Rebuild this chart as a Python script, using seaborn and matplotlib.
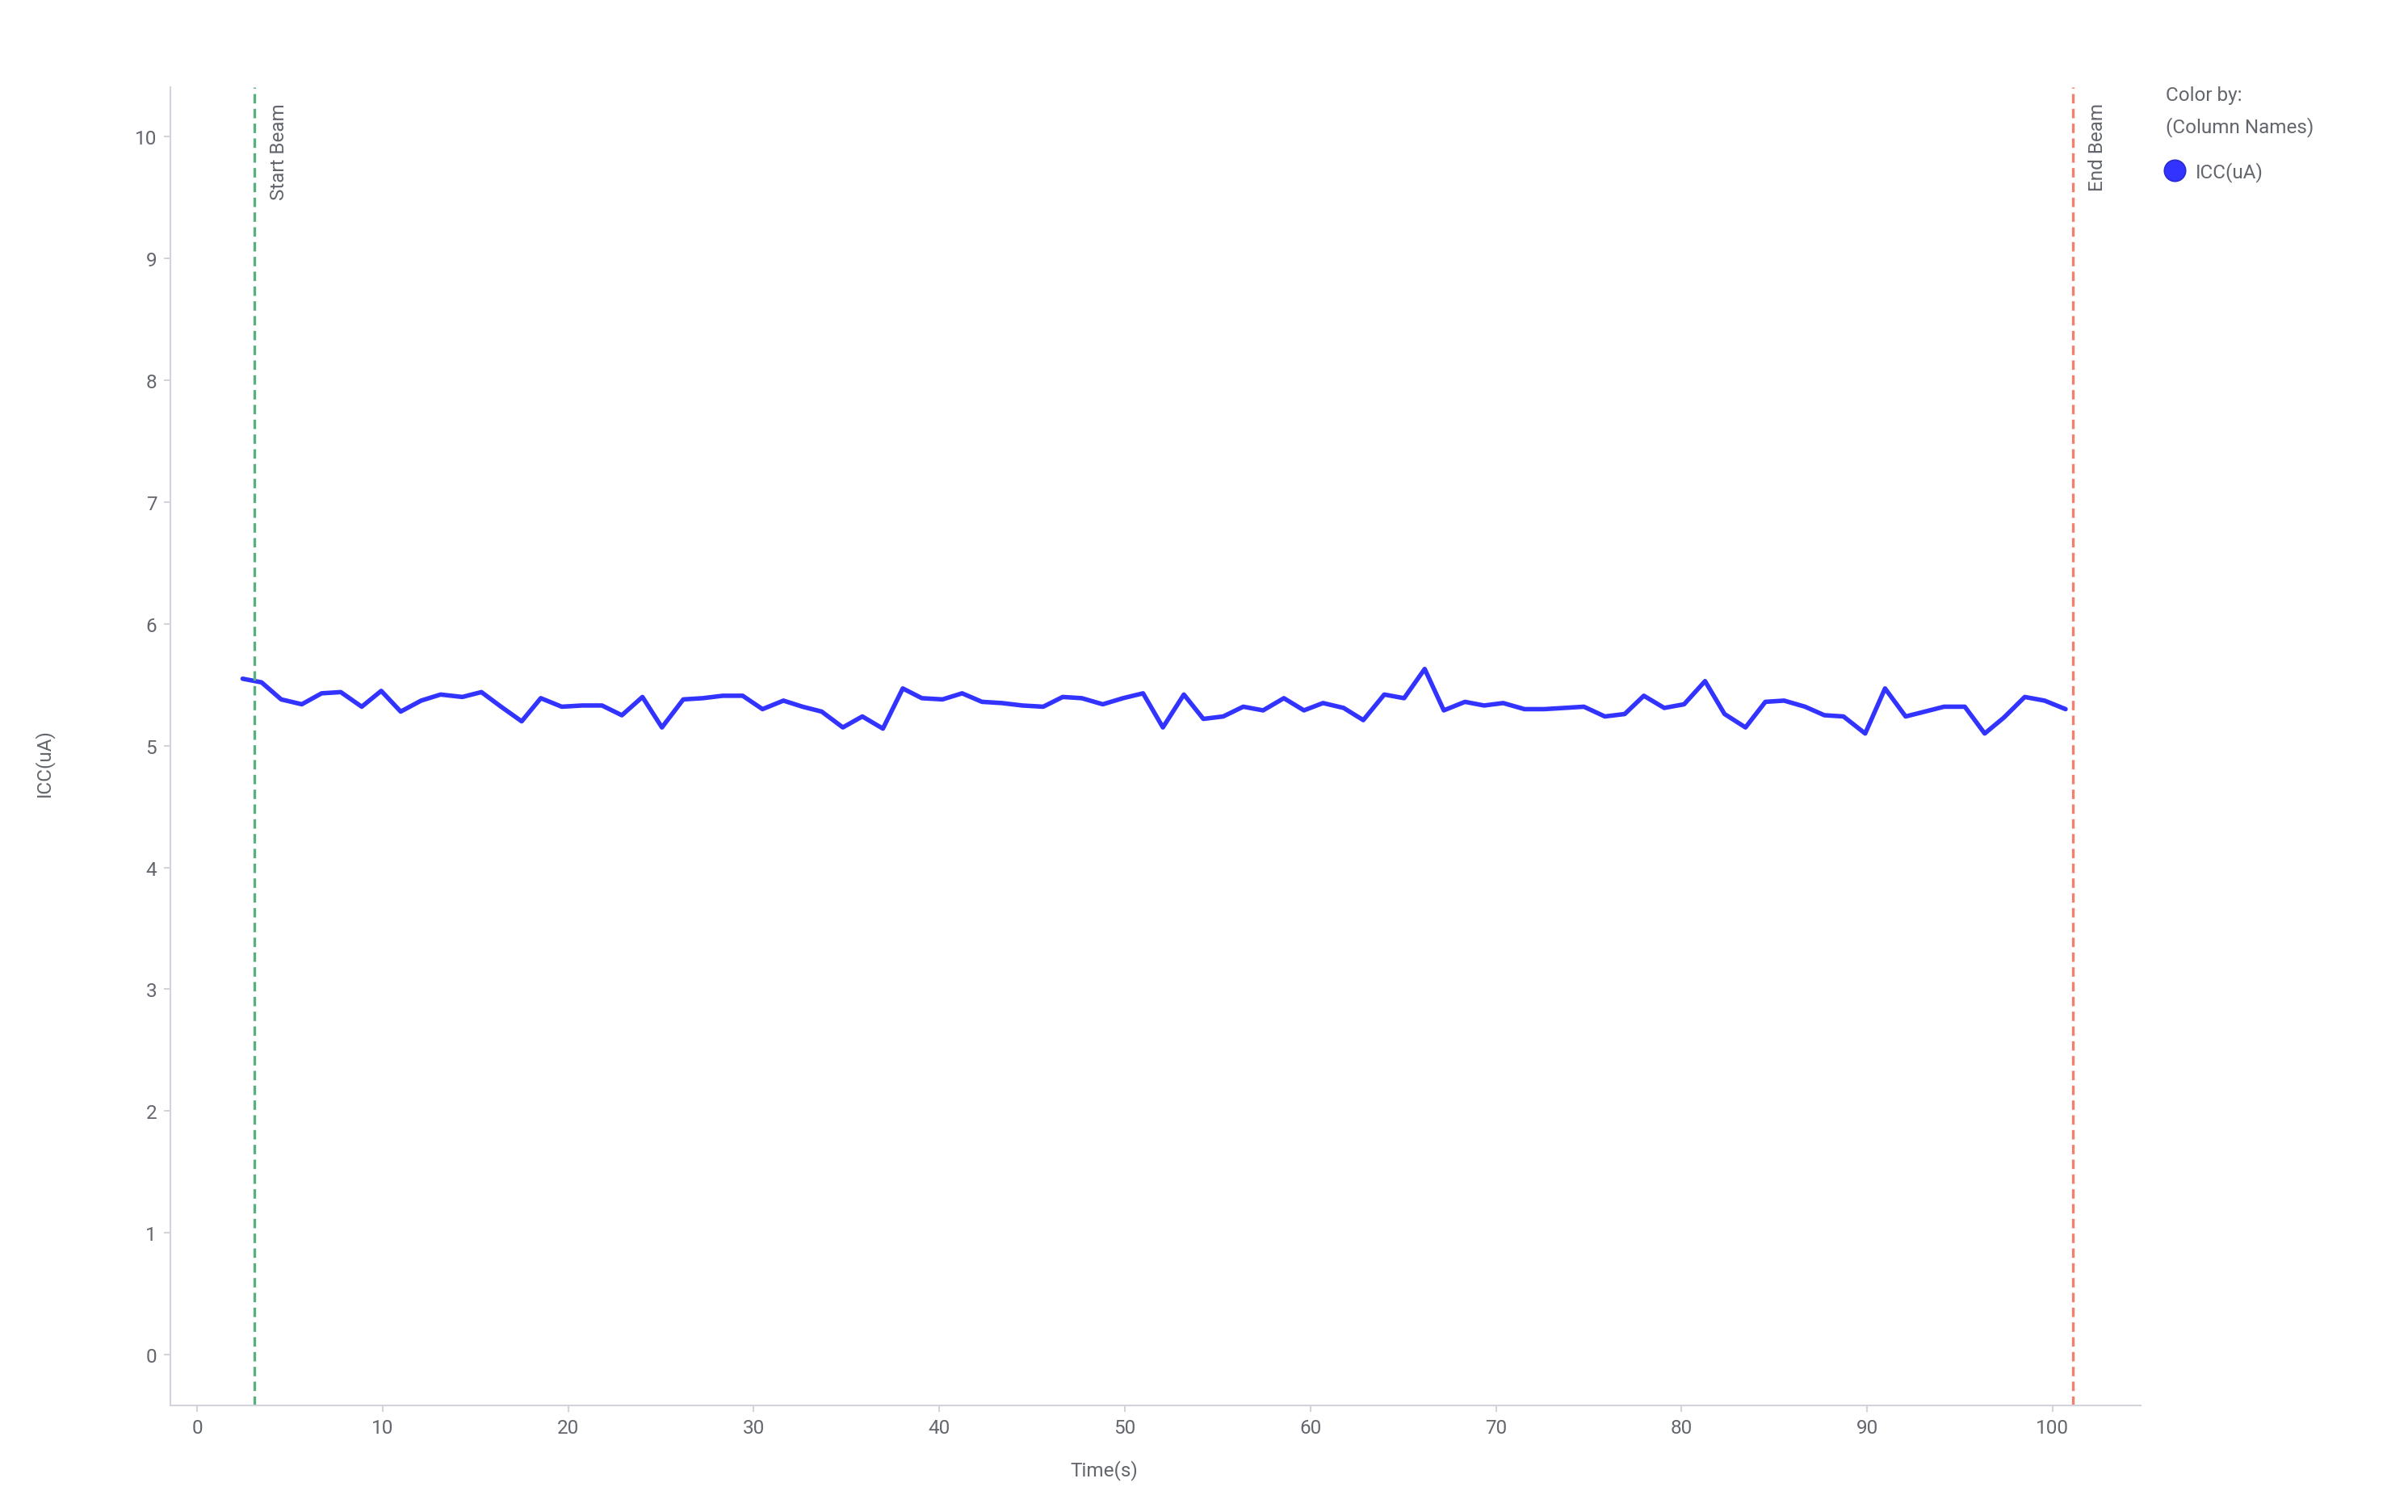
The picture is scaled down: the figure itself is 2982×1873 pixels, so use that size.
import matplotlib
matplotlib.use("Agg")
import matplotlib.pyplot as plt
from matplotlib.lines import Line2D
import seaborn as sns
import pandas as pd

# ---- data ----
time_s = [2.45, 3.47, 4.53, 5.64, 6.71, 7.74, 8.87, 9.92, 10.97, 12.07,
          13.12, 14.29, 15.32, 16.38, 17.49, 18.52, 19.65, 20.76, 21.82, 22.89,
          24.0, 25.05, 26.2, 27.25, 28.33, 29.4, 30.47, 31.6, 32.63, 33.66,
          34.8, 35.85, 36.96, 38.03, 39.06, 40.17, 41.23, 42.3, 43.37, 44.47,
          45.6, 46.65, 47.68, 48.81, 49.9, 50.98, 52.05, 53.18, 54.23, 55.3,
          56.38, 57.45, 58.57, 59.65, 60.68, 61.79, 62.85, 63.98, 65.05, 66.16,
          67.19, 68.33, 69.36, 70.39, 71.54, 72.6, 73.68, 74.74, 75.87, 76.94,
          77.97, 79.07, 80.14, 81.27, 82.32, 83.45, 84.52, 85.53, 86.66, 87.7,
          88.73, 89.9, 90.97, 92.08, 93.12, 94.15, 95.27, 96.34, 97.37, 98.5,
          99.57, 100.7]
icc_ua = [5.55, 5.52, 5.38, 5.34, 5.43, 5.44, 5.32, 5.45, 5.28, 5.37,
          5.42, 5.40, 5.44, 5.32, 5.20, 5.39, 5.32, 5.33, 5.33, 5.25,
          5.40, 5.15, 5.38, 5.39, 5.41, 5.41, 5.30, 5.37, 5.32, 5.28,
          5.15, 5.24, 5.14, 5.47, 5.39, 5.38, 5.43, 5.36, 5.35, 5.33,
          5.32, 5.40, 5.39, 5.34, 5.39, 5.43, 5.15, 5.42, 5.22, 5.24,
          5.32, 5.29, 5.39, 5.29, 5.35, 5.31, 5.21, 5.42, 5.39, 5.63,
          5.29, 5.36, 5.33, 5.35, 5.30, 5.30, 5.31, 5.32, 5.24, 5.26,
          5.41, 5.31, 5.34, 5.53, 5.26, 5.15, 5.36, 5.37, 5.32, 5.25,
          5.24, 5.10, 5.47, 5.24, 5.28, 5.32, 5.32, 5.10, 5.23, 5.40,
          5.37, 5.30]
start_beam = 3.08
end_beam = 101.1
x_ticks = [0, 10, 20, 30, 40, 50, 60, 70, 80, 90, 100]
y_ticks = [0, 1, 2, 3, 4, 5, 6, 7, 8, 9, 10]
series_name = "ICC(uA)"

# ---- styling ----
sns.set_style("white")
plt.rcParams['font.family'] = ['Roboto', 'DejaVu Sans']
TXT = "#63666c"
SPINE = "#d3d3dc"
BLUE = "#3333ff"
GREEN = "#5aaf80"
RED = "#f2806e"
FS = 17.5

df = pd.DataFrame({"Time(s)": time_s, series_name: icc_ua})

fig = plt.figure(figsize=(29.82, 18.74), dpi=100)
ax = fig.add_axes([0.0707, 0.0706, 0.8183, 0.8715])

sns.lineplot(data=df, x="Time(s)", y=series_name, color=BLUE, linewidth=4.0,
             ax=ax, legend=False)

ax.axvline(start_beam, color=GREEN, linewidth=2.4, dashes=(3.5, 2.0))
ax.axvline(end_beam, color=RED, linewidth=2.4, dashes=(3.5, 2.0))

ax.text(start_beam + 1.35, 10.28, "Start Beam", rotation=90, ha="center", va="top",
        fontsize=FS, color=TXT)
ax.text(end_beam + 1.3, 10.28, "End Beam", rotation=90, ha="center", va="top",
        fontsize=FS, color=TXT)

ax.set_xlim(-1.45, 104.75)
ax.set_ylim(-0.415, 10.41)
ax.set_xticks(x_ticks)
ax.set_yticks(y_ticks)

for s in ["top", "right"]:
    ax.spines[s].set_visible(False)
for s in ["left", "bottom"]:
    ax.spines[s].set_color(SPINE)
    ax.spines[s].set_linewidth(1.5)

ax.tick_params(axis="both", which="major", length=6, width=1.5, color=SPINE,
               labelsize=FS, labelcolor=TXT, pad=6, left=True, bottom=True)

ax.set_xlabel("Time(s)", fontsize=FS, color=TXT)
ax.set_ylabel(series_name, fontsize=FS, color=TXT)
ax.xaxis.set_label_coords(0.474, -0.041)
ax.yaxis.set_label_coords(-0.059, 0.488)

# legend
fig.text(0.8994, 0.937, "Color by:", fontsize=FS, color=TXT, ha="left", va="center")
fig.text(0.8994, 0.9157, "(Column Names)", fontsize=FS, color=TXT, ha="left", va="center")
handle = Line2D([], [], marker="o", linestyle="", markersize=19,
                markerfacecolor=BLUE, markeredgecolor="#2a2ad0", markeredgewidth=1.2)
leg = ax.legend([handle], [series_name], loc="center left",
                bbox_to_anchor=(0.8983, 0.8858), bbox_transform=fig.transFigure,
                frameon=False, fontsize=FS, borderpad=0, borderaxespad=0,
                handlelength=1.2, handletextpad=0.45)
for t in leg.get_texts():
    t.set_color(TXT)

fig.savefig("out.png", dpi=100)
